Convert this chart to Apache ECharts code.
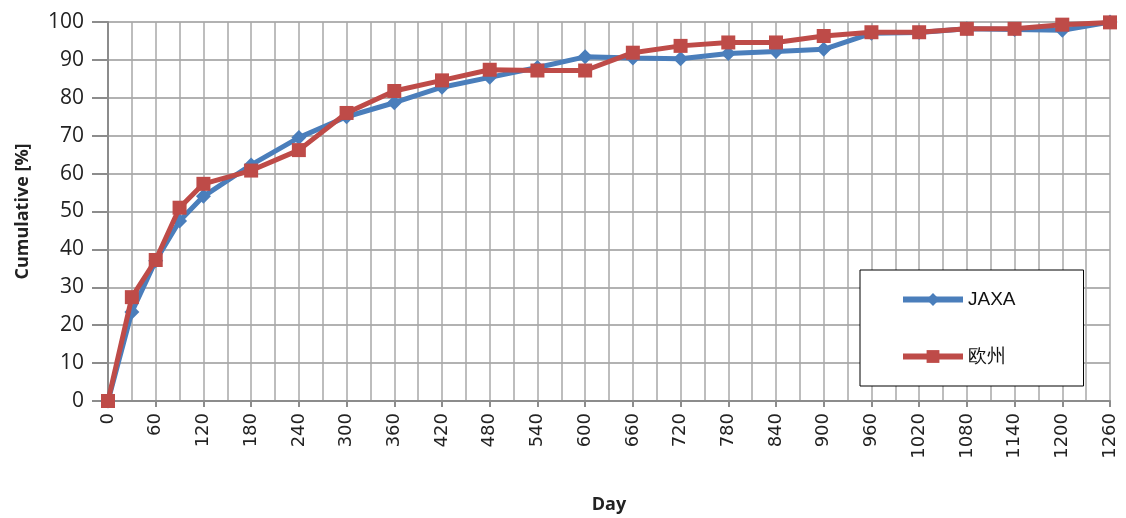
<!DOCTYPE html>
<html>
<head>
<meta charset="utf-8">
<script src="https://cdn.jsdelivr.net/npm/echarts@6/dist/echarts.min.js"></script>
<style>html,body{margin:0;padding:0;background:#fff}#c{width:1126px;height:518px}</style>
</head>
<body>
<div id="c"></div>
<script>
const days = [0,30,60,90,120,180,240,300,360,420,480,540,600,660,720,780,840,900,960,1020,1080,1140,1200,1260];
const jaxa = [0,23.5,37,47.5,54,62.3,69.5,75,78.7,82.8,85.4,88,90.8,90.5,90.3,91.7,92.2,92.8,97,97.2,98.2,98,97.8,100];
const europe = [0,27.4,37.2,51,57.3,60.8,66.2,76,81.8,84.6,87.4,87.2,87.2,91.9,93.7,94.6,94.6,96.3,97.3,97.3,98.2,98.2,99.3,99.9];
const seriesNames = ['JAXA','欧州'];

const chart = echarts.init(document.getElementById('c'));
const pair = (xs, ys) => xs.map((x,i)=>[x, ys[i]]);
chart.setOption({
  animation:false,
  backgroundColor:'#fff',
  grid:{left:108,right:16,top:22,bottom:117,containLabel:false,outerBoundsMode:'none'},
  xAxis:{
    type:'value',min:0,max:1260,interval:60,
    name:'Day',nameLocation:'middle',nameGap:95,
    nameTextStyle:{fontFamily:'Open Sans',fontWeight:'bold',fontSize:18,color:'#222'},
    axisLine:{show:true,lineStyle:{color:'#8c8c8c',width:2}},
    axisTick:{show:true,length:6,lineStyle:{color:'#8c8c8c',width:2}},
    minorTick:{show:false,splitNumber:2},
    minorSplitLine:{show:true,lineStyle:{color:'#a8a8a8',width:1.5}},
    splitLine:{show:true,lineStyle:{color:'#a8a8a8',width:1.5}},
    axisLabel:{rotate:90,margin:12,fontFamily:'DejaVu Sans',fontSize:18,color:'#222',
      formatter:v=>String(v)}
  },
  yAxis:{
    type:'value',min:0,max:100,interval:10,
    name:'Cumulative [%]',nameLocation:'middle',nameGap:76,
    nameTextStyle:{fontFamily:'Open Sans',fontWeight:'bold',fontSize:18,color:'#222'},
    axisLine:{show:true,lineStyle:{color:'#8c8c8c',width:2}},
    axisTick:{show:true,length:16,lineStyle:{color:'#8c8c8c',width:2}},
    splitLine:{show:true,lineStyle:{color:'#999',width:1.5}},
    axisLabel:{margin:24,fontFamily:'Open Sans',fontSize:21,color:'#222'}
  },
  legend:{
    orient:'vertical',left:860,top:270,
    padding:[20,68,20,40],itemGap:38,itemWidth:60,itemHeight:16,
    backgroundColor:'#fff',borderColor:'#000',borderWidth:1,borderRadius:0,
    lineStyle:{width:6},
    textStyle:{fontFamily:'Liberation Sans',fontSize:19,color:'#111'},
    data:seriesNames
  },
  series:[
    {name:seriesNames[0],type:'line',data:pair(days,jaxa),symbol:'diamond',symbolSize:15,
     lineStyle:{color:'#4a7ebb',width:5},itemStyle:{color:'#4a7ebb'},z:2},
    {name:seriesNames[1],type:'line',data:pair(days,europe),symbol:'rect',symbolSize:14,
     lineStyle:{color:'#be4b48',width:5},itemStyle:{color:'#be4b48'},z:3}
  ]
});
</script>
</body>
</html>
